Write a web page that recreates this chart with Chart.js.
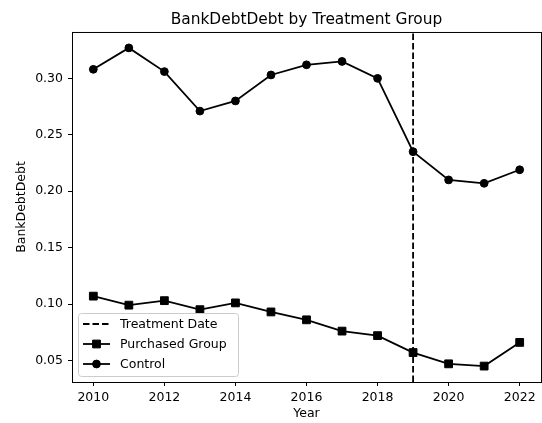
<!DOCTYPE html>
<html>
<head>
<meta charset="utf-8">
<title>BankDebtDebt by Treatment Group</title>
<script src="https://cdn.jsdelivr.net/npm/chart.js@4.4.1/dist/chart.umd.min.js"></script>
<style>
  html, body { margin: 0; padding: 0; background: #fff; }
  #wrap { width: 542px; height: 423px; }
</style>
</head>
<body>
<div id="wrap"><canvas id="chart" width="542" height="423"></canvas></div>
<script>
// Data
const years = [2010, 2011, 2012, 2013, 2014, 2015, 2016, 2017, 2018, 2019, 2020, 2021, 2022];
const purchasedValues = [0.107, 0.099, 0.103, 0.095, 0.101, 0.093, 0.086, 0.076, 0.072, 0.057, 0.047, 0.045, 0.066];
const controlValues = [0.308, 0.327, 0.306, 0.271, 0.280, 0.303, 0.312, 0.315, 0.300, 0.235, 0.210, 0.207, 0.219];
const treatmentYear = 2019;

const seriesLabels = ["Treatment Date", "Purchased Group", "Control"];
const chartTitle = "BankDebtDebt by Treatment Group";
const xTitle = "Year";
const yTitle = "BankDebtDebt";

// axis limits with a 5% margin around the data
const allValues = purchasedValues.concat(controlValues);
const yLo = Math.min(...allValues), yHi = Math.max(...allValues);
const yMin = yLo - (yHi - yLo) * 0.05;
const yMax = yHi + (yHi - yLo) * 0.05;
const xMin = years[0] - (years[years.length - 1] - years[0]) * 0.05;
const xMax = years[years.length - 1] + (years[years.length - 1] - years[0]) * 0.05;

const FONT = "'DejaVu Sans', 'Liberation Sans', sans-serif";
Chart.defaults.font.family = FONT;
Chart.defaults.color = "#000";

// center the title over the plot, not the canvas
const titleOverPlot = {
    id: "titleOverPlot",
    afterLayout(chart) {
        if (chart.titleBlock) {
            chart.titleBlock.left = chart.chartArea.left;
            chart.titleBlock.right = chart.chartArea.right;
        }
    }
};

// box round the plot
const frame = {
    id: "frame",
    afterDatasetsDraw(chart) {
        const a = chart.chartArea;
        const ctx = chart.ctx;
        ctx.save();
        ctx.strokeStyle = "#000";
        ctx.lineWidth = 1;
        ctx.strokeRect(a.left + 0.5, a.top + 0.5, a.right - a.left, a.bottom - a.top);
        ctx.restore();
    }
};

// legend in the lower left corner of the plot
const insideLegend = {
    id: "insideLegend",
    afterDraw(chart) {
        const a = chart.chartArea;
        const ctx = chart.ctx;
        const w = 160, h = 63;
        const x = a.left + 6, y = a.bottom - 6 - h;

        ctx.save();
        ctx.beginPath();
        ctx.roundRect(x + 0.5, y + 0.5, w, h, 3);
        ctx.fillStyle = "rgba(255,255,255,0.8)";
        ctx.fill();
        ctx.strokeStyle = "#cccccc";
        ctx.lineWidth = 1;
        ctx.stroke();

        chart.data.datasets.forEach((ds, i) => {
            const cy = y + 11 + i * 20;
            ctx.beginPath();
            ctx.setLineDash(ds.borderDash || []);
            ctx.strokeStyle = ds.borderColor;
            ctx.lineWidth = ds.borderWidth;
            ctx.moveTo(x + 5, cy);
            ctx.lineTo(x + 32, cy);
            ctx.stroke();
            ctx.setLineDash([]);
            if (ds.pointRadius > 0) {
                ctx.fillStyle = ds.pointBackgroundColor;
                ctx.strokeStyle = ds.pointBorderColor;
                ctx.lineWidth = ds.pointBorderWidth;
                Chart.helpers.drawPoint(ctx, {
                    pointStyle: ds.pointStyle,
                    radius: ds.pointRadius,
                    borderWidth: ds.pointBorderWidth,
                    rotation: 0
                }, x + 18.5, cy);
            }
            ctx.fillStyle = "#000";
            ctx.font = "12.5px " + FONT;
            ctx.textBaseline = "middle";
            ctx.textAlign = "left";
            ctx.fillText(ds.label, x + 42, cy + 0.5);
        });
        ctx.restore();
    }
};

new Chart(document.getElementById("chart"), {
    type: "line",
    data: {
        datasets: [
            {
                label: seriesLabels[0],
                data: [{ x: treatmentYear, y: yMin }, { x: treatmentYear, y: yMax }],
                borderColor: "#000",
                borderWidth: 1.8,
                borderDash: [6.5, 3],
                pointRadius: 0,
                fill: false
            },
            {
                label: seriesLabels[1],
                data: years.map((yr, i) => ({ x: yr, y: purchasedValues[i] })),
                borderColor: "#000",
                borderWidth: 1.8,
                pointStyle: "rect",
                pointRadius: 5.5,
                pointBorderWidth: 1,
                pointBackgroundColor: "#000",
                pointBorderColor: "#000",
                fill: false
            },
            {
                label: seriesLabels[2],
                data: years.map((yr, i) => ({ x: yr, y: controlValues[i] })),
                borderColor: "#000",
                borderWidth: 1.8,
                pointStyle: "circle",
                pointRadius: 3.9,
                pointBorderWidth: 1,
                pointBackgroundColor: "#000",
                pointBorderColor: "#000",
                fill: false
            }
        ]
    },
    options: {
        responsive: false,
        animation: false,
        layout: { autoPadding: false, padding: { left: 0, right: 1, top: 0, bottom: 0 } },
        plugins: {
            legend: { display: false },
            tooltip: { enabled: false },
            title: {
                display: true,
                text: chartTitle,
                color: "#000",
                font: { size: 15.4, weight: "normal", family: FONT },
                padding: { top: 10.3, bottom: 3.2 }
            }
        },
        scales: {
            x: {
                type: "linear",
                min: xMin,
                max: xMax,
                afterFit(scale) {
                    scale.height = 41;
                    scale.paddingLeft = 0;
                    scale.paddingRight = 0;
                },
                border: { display: false },
                grid: { drawOnChartArea: false, drawTicks: true, tickLength: 4, color: "#000" },
                ticks: {
                    stepSize: 2,
                    includeBounds: false,
                    autoSkip: false,
                    maxRotation: 0,
                    padding: 4.5,
                    font: { size: 12.5 },
                    callback: v => String(v)
                },
                title: {
                    display: true,
                    text: xTitle,
                    font: { size: 12.5 },
                    padding: { top: 0, bottom: 1.5 }
                }
            },
            y: {
                min: yMin,
                max: yMax,
                afterFit(scale) {
                    scale.width = 72;
                    scale.paddingTop = 0;
                    scale.paddingBottom = 0;
                },
                border: { display: false },
                grid: { drawOnChartArea: false, drawTicks: true, tickLength: 4, color: "#000" },
                ticks: {
                    stepSize: 0.05,
                    includeBounds: false,
                    padding: 5,
                    font: { size: 12.5 },
                    callback: v => v.toFixed(2)
                },
                title: {
                    display: true,
                    text: yTitle,
                    font: { size: 12.5 },
                    padding: { top: 14.5, bottom: 0 }
                }
            }
        }
    },
    plugins: [titleOverPlot, frame, insideLegend]
});
</script>
</body>
</html>
